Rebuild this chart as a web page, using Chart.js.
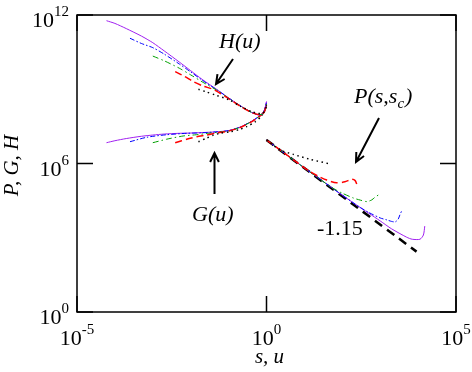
<!DOCTYPE html>
<html>
<head>
<meta charset="utf-8">
<script src="https://cdn.jsdelivr.net/npm/chart.js@4.4.1/dist/chart.umd.min.js"></script>
<style>
  body { margin: 0; background: #fff; }
  canvas { display: block; }
</style>
</head>
<body>
<canvas id="myChart" width="472" height="372"></canvas>
<script>
// H(u): five runs (black, red, green, blue, purple)
const hBlackU = [0.016, 0.026, 0.044, 0.1, 0.2, 0.4, 0.6, 0.8, 0.9, 1.0];
const hBlack = [1.0e9, 7.76e8, 5.89e8, 3.80e8, 2.09e8, 1.26e8, 1.05e8, 1.07e8, 1.32e8, 2.0e8];
const hRedU = [0.0039, 0.007, 0.012, 0.021, 0.04, 0.1, 0.2, 0.4, 0.6, 0.8, 0.9, 0.95, 1.0];
const hRed = [5.13e9, 3.24e9, 2.0e9, 1.35e9, 9.77e8, 4.17e8, 2.09e8, 1.15e8, 9.55e7, 1.0e8, 1.32e8, 1.78e8, 2.4e8];
const hGreenU = [0.001, 0.002, 0.005, 0.01, 0.02, 0.05, 0.1, 0.2, 0.4, 0.6, 0.8, 0.9, 0.95, 1.0];
const hGreen = [2.19e10, 1.41e10, 7.08e9, 3.80e9, 2.0e9, 8.91e8, 4.37e8, 2.14e8, 1.17e8, 9.55e7, 1.0e8, 1.41e8, 1.91e8, 2.51e8];
const hBlueU = [0.00025, 0.0005, 0.001, 0.002, 0.005, 0.01, 0.02, 0.05, 0.1, 0.2, 0.4, 0.6, 0.8, 0.9, 0.95, 1.0];
const hBlue = [1.15e11, 7.08e10, 4.79e10, 2.63e10, 1.05e10, 5.01e9, 2.34e9, 9.33e8, 4.47e8, 2.19e8, 1.17e8, 9.33e7, 9.77e7, 1.51e8, 2.09e8, 2.82e8];
const hPurpleU = [0.00006, 0.0001, 0.0002, 0.0005, 0.001, 0.002, 0.005, 0.01, 0.02, 0.05, 0.1, 0.2, 0.4, 0.6, 0.8, 0.9, 0.95, 1.0];
const hPurple = [5.89e11, 4.57e11, 2.82e11, 1.41e11, 7.59e10, 3.55e10, 1.26e10, 5.62e9, 2.51e9, 9.55e8, 4.47e8, 2.19e8, 1.17e8, 9.33e7, 1.0e8, 1.58e8, 2.24e8, 3.16e8];

// G(u)
const gBlackU = [0.016, 0.026, 0.04, 0.059, 0.11, 0.2, 0.3, 0.5, 0.7, 0.9, 1.0];
const gBlack = [7.59e6, 1.05e7, 1.41e7, 1.66e7, 1.91e7, 2.40e7, 3.09e7, 4.79e7, 7.59e7, 1.41e8, 2.24e8];
const gRedU = [0.0039, 0.0078, 0.0145, 0.026, 0.05, 0.1, 0.2, 0.4, 0.6, 0.8, 0.9, 0.95, 1.0];
const gRed = [6.92e6, 9.55e6, 1.20e7, 1.41e7, 1.74e7, 2.04e7, 2.82e7, 4.79e7, 7.24e7, 1.05e8, 1.45e8, 1.91e8, 2.4e8];
const gGreenU = [0.001, 0.0023, 0.0063, 0.014, 0.03, 0.05, 0.1, 0.2, 0.4, 0.6, 0.8, 0.9, 0.95, 1.0];
const gGreen = [6.92e6, 9.55e6, 1.29e7, 1.45e7, 1.66e7, 1.82e7, 2.09e7, 2.88e7, 4.90e7, 7.41e7, 1.07e8, 1.48e8, 1.95e8, 2.51e8];
const gBlueU = [0.00025, 0.0007, 0.0023, 0.0078, 0.02, 0.05, 0.1, 0.2, 0.4, 0.6, 0.8, 0.9, 0.95, 1.0];
const gBlue = [7.59e6, 1.15e7, 1.45e7, 1.66e7, 1.74e7, 1.91e7, 2.14e7, 2.95e7, 5.01e7, 7.59e7, 1.10e8, 1.51e8, 1.91e8, 2.82e8];
const gPurpleU = [0.00006, 0.0001, 0.0002, 0.0005, 0.001, 0.002, 0.005, 0.01, 0.02, 0.05, 0.1, 0.2, 0.4, 0.6, 0.8, 0.9, 0.95, 1.0];
const gPurple = [6.92e6, 8.32e6, 1.02e7, 1.26e7, 1.41e7, 1.55e7, 1.66e7, 1.70e7, 1.78e7, 1.91e7, 2.14e7, 2.95e7, 5.01e7, 7.59e7, 1.12e8, 1.58e8, 2.0e8, 3.16e8];

// P(s, s_c)
const pBlackS = [1, 2.27, 5.1, 14, 48];
const pBlack = [8.91e6, 3.55e6, 2.34e6, 1.48e6, 9.55e5];
const pRedS = [1, 2, 5, 14, 23, 39, 71, 117, 178, 219, 240];
const pRed = [8.91e6, 4.07e6, 1.45e6, 4.68e5, 3.09e5, 2.14e5, 1.66e5, 1.82e5, 2.29e5, 2.04e5, 1.48e5];
const pGreenS = [1, 2, 5, 10, 20, 50, 100, 200, 300, 450, 600, 720, 900];
const pGreen = [8.91e6, 4.07e6, 1.45e6, 6.61e5, 3.09e5, 1.12e5, 6.31e4, 3.98e4, 3.31e4, 2.88e4, 3.39e4, 4.27e4, 5.37e4];
const pBlueS = [1, 2, 5, 10, 20, 50, 100, 200, 300, 500, 1000, 1500, 2000, 2500, 3000, 3300, 3700];
const pBlue = [8.91e6, 4.07e6, 1.45e6, 6.61e5, 3.09e5, 1.12e5, 5.25e4, 2.51e4, 1.66e4, 1.05e4, 6.31e3, 5.25e3, 4.57e3, 4.37e3, 5.75e3, 8.32e3, 1.23e4];
const pPurpleS = [1, 2, 5, 10, 20, 50, 100, 200, 500, 1000, 2000, 5000, 7000, 11200, 13800, 15000];
const pPurple = [8.91e6, 4.07e6, 1.45e6, 6.61e5, 3.09e5, 1.12e5, 5.25e4, 2.51e4, 9.77e3, 4.79e3, 2.29e3, 1.05e3, 871, 871, 1.29e3, 2.95e3];

// guide line of slope -1.15
const slopeS = [1, 9100];
const slopeVal = [8.91e6, 275];

// axis ticks (log10 exponents)
const xTickExp = [-5, 0, 5];
const yTickExp = [0, 6, 12];

const SERIF = '"Liberation Serif", "Times New Roman", serif';

function pts(xs, ys) {
    return xs.map((v, i) => ({ x: v, y: ys[i] }));
}

function line(data, color, width, dash) {
    return {
        data: data,
        showLine: true,
        borderColor: color,
        borderWidth: width,
        borderDash: dash,
        pointRadius: 0,
        tension: 0.25,
        fill: false
    };
}

const styles = {
    black: ['#000000', 1.5, [1.5, 3.5]],
    red: ['#ff0000', 1.5, [7, 4]],
    green: ['#00a000', 1, [6, 3, 1.5, 3]],
    blue: ['#0000ff', 1, [5, 2, 1.5, 2]],
    purple: ['#a020f0', 1, []]
};

function styled(data, name) {
    const s = styles[name];
    return line(data, s[0], s[1], s[2]);
}

const datasets = [
    styled(pts(hBlackU, hBlack), 'black'),
    styled(pts(hRedU, hRed), 'red'),
    styled(pts(hGreenU, hGreen), 'green'),
    styled(pts(hBlueU, hBlue), 'blue'),
    styled(pts(hPurpleU, hPurple), 'purple'),
    styled(pts(gBlackU, gBlack), 'black'),
    styled(pts(gRedU, gRed), 'red'),
    styled(pts(gGreenU, gGreen), 'green'),
    styled(pts(gBlueU, gBlue), 'blue'),
    styled(pts(gPurpleU, gPurple), 'purple'),
    styled(pts(pBlackS, pBlack), 'black'),
    styled(pts(pRedS, pRed), 'red'),
    styled(pts(pGreenS, pGreen), 'green'),
    styled(pts(pBlueS, pBlue), 'blue'),
    styled(pts(pPurpleS, pPurple), 'purple'),
    line(pts(slopeS, slopeVal), '#000000', 2.5, [9, 6])
];

// draws 10^n with a raised exponent; returns nothing
function drawPower(ctx, exp, x, y, align) {
    const base = '10', sup = String(exp);
    ctx.font = '22px ' + SERIF;
    const wb = ctx.measureText(base).width;
    ctx.font = '15px ' + SERIF;
    const ws = ctx.measureText(sup).width;
    let left = align === 'right' ? x - wb - ws : x - (wb + ws) / 2;
    ctx.textAlign = 'left';
    ctx.textBaseline = 'alphabetic';
    ctx.font = '22px ' + SERIF;
    ctx.fillText(base, left, y);
    ctx.font = '15px ' + SERIF;
    ctx.fillText(sup, left + wb, y - 11);
}

function arrow(ctx, x1, y1, x2, y2) {
    const ang = Math.atan2(y2 - y1, x2 - x1);
    const head = 10;
    ctx.beginPath();
    ctx.moveTo(x1, y1);
    ctx.lineTo(x2, y2);
    ctx.moveTo(x2 - head * Math.cos(ang - 0.45), y2 - head * Math.sin(ang - 0.45));
    ctx.lineTo(x2, y2);
    ctx.lineTo(x2 - head * Math.cos(ang + 0.45), y2 - head * Math.sin(ang + 0.45));
    ctx.stroke();
}

const decorations = {
    id: 'decorations',
    afterDraw(chart) {
        const ctx = chart.ctx;
        const a = chart.chartArea;
        const xs = chart.scales.x, ys = chart.scales.y;
        ctx.save();
        ctx.strokeStyle = '#000';
        ctx.fillStyle = '#000';
        ctx.lineWidth = 1.5;
        ctx.strokeRect(a.left, a.top, a.right - a.left, a.bottom - a.top);

        // inward ticks on all four sides
        ctx.beginPath();
        xTickExp.forEach(e => {
            const px = xs.getPixelForValue(Math.pow(10, e));
            ctx.moveTo(px, a.bottom); ctx.lineTo(px, a.bottom - 16);
            ctx.moveTo(px, a.top); ctx.lineTo(px, a.top + 16);
        });
        yTickExp.forEach(e => {
            const py = ys.getPixelForValue(Math.pow(10, e));
            ctx.moveTo(a.left, py); ctx.lineTo(a.left + 16, py);
            ctx.moveTo(a.right, py); ctx.lineTo(a.right - 16, py);
        });
        ctx.stroke();

        // tick labels
        xTickExp.forEach(e => {
            drawPower(ctx, e, xs.getPixelForValue(Math.pow(10, e)), a.bottom + 33, 'center');
        });
        yTickExp.forEach(e => {
            drawPower(ctx, e, a.left - 8, ys.getPixelForValue(Math.pow(10, e)) + 12, 'right');
        });

        // axis titles
        ctx.font = 'italic 21px ' + SERIF;
        ctx.textAlign = 'center';
        ctx.fillText('s, u', (a.left + a.right) / 2 + 3, 363);
        ctx.save();
        ctx.translate(18, (a.top + a.bottom) / 2 + 2);
        ctx.rotate(-Math.PI / 2);
        ctx.fillText('P, G, H', 0, 0);
        ctx.restore();

        // annotations
        ctx.textAlign = 'left';
        ctx.font = 'italic 22px ' + SERIF;
        ctx.fillText('H(u)', 219, 48);
        ctx.fillText('G(u)', 192, 221);
        let px = 354;
        ctx.fillText('P(s,s', px, 103);
        px += ctx.measureText('P(s,s').width;
        ctx.font = 'italic 15px ' + SERIF;
        ctx.fillText('c', px, 108);
        px += ctx.measureText('c').width;
        ctx.font = 'italic 22px ' + SERIF;
        ctx.fillText(')', px + 1, 103);
        ctx.font = '22px ' + SERIF;
        ctx.fillText('-1.15', 317, 235);

        ctx.lineWidth = 2;
        arrow(ctx, 233, 59, 216, 84);
        arrow(ctx, 214.5, 194, 214.5, 153);
        arrow(ctx, 379, 118, 356, 162);
        ctx.restore();
    }
};

new Chart(document.getElementById('myChart').getContext('2d'), {
    type: 'scatter',
    data: { datasets: datasets },
    options: {
        responsive: false,
        animation: false,
        layout: { padding: { left: 77, right: 16, top: 15, bottom: 60 } },
        plugins: {
            legend: { display: false },
            tooltip: { enabled: false }
        },
        scales: {
            x: { type: 'logarithmic', min: 1e-5, max: 1e5, display: false },
            y: { type: 'logarithmic', min: 1, max: 1e12, display: false }
        }
    },
    plugins: [decorations]
});
</script>
</body>
</html>
